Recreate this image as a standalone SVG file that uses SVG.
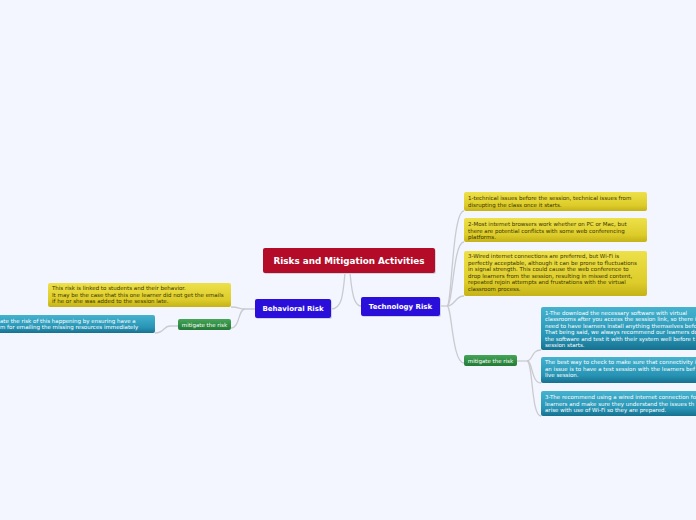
<svg xmlns="http://www.w3.org/2000/svg" width="696" height="520" viewBox="0 0 696 520">
<defs>
<linearGradient id="gy" x1="0" y1="0" x2="0" y2="1"><stop offset="0" stop-color="#ede04a"/><stop offset="0.7" stop-color="#ddcc2a"/><stop offset="1" stop-color="#c4b218"/></linearGradient>
<linearGradient id="gt" x1="0" y1="0" x2="0" y2="1"><stop offset="0" stop-color="#45b2cf"/><stop offset="0.7" stop-color="#2894b5"/><stop offset="1" stop-color="#17708f"/></linearGradient>
<linearGradient id="gg" x1="0" y1="0" x2="0" y2="1"><stop offset="0" stop-color="#45a558"/><stop offset="1" stop-color="#237a36"/></linearGradient>
<style>
.c{fill:none;stroke:#c9cbd0;stroke-width:1.3}
.y{fill:url(#gy)}
.t{fill:url(#gt)}
.g{fill:url(#gg)}
.sh{fill:#cfd3dc}
.tx{font-family:"DejaVu Sans",Verdana,sans-serif;font-size:5.5px;fill:#3a3300}
.tw{font-family:"DejaVu Sans",Verdana,sans-serif;font-size:5.5px;fill:#ffffff}
.b{font-family:"DejaVu Sans",Verdana,sans-serif;font-weight:bold;fill:#ffffff}
</style>
</defs>
<rect width="696" height="520" fill="#f3f6fe"/>
<g id="connectors">
<path class="c" d="M345,273 C343,295 342,309 331,309"/>
<path class="c" d="M350,273 C352,293 354,306 361,306"/>
<path class="c" d="M440,306 L447,306"/>
<path class="c" d="M447,306 C452,306 452,211 464,211"/>
<path class="c" d="M447,306 C453,306 453,242 464,242"/>
<path class="c" d="M447,306 C455,306 455,296 464,296"/>
<path class="c" d="M447,306 C452,306 452,363 464,363"/>
<path class="c" d="M517,361 L527,361"/>
<path class="c" d="M527,361 C533,361 531,350 541,350"/>
<path class="c" d="M527,361 C533,361 531,383 541,383"/>
<path class="c" d="M527,361 C533,361 531,416 541,416"/>
<path class="c" d="M255,309 L245,309 C238,309 240,307 231,307"/>
<path class="c" d="M245,309 C238,309 240,328 231,328"/>
<path class="c" d="M178,326 L170,326 C163,326 165,333 155,333"/>
</g>
<g id="root">
<rect x="264" y="249" width="172" height="25" rx="2" class="sh"/>
<rect x="263" y="248" width="172" height="25" rx="2" fill="#b30b28"/>
<text x="349" y="264" text-anchor="middle" class="b" font-size="8.8">Risks and Mitigation Activities</text>
</g>
<g id="behavioral">
<rect x="256" y="300" width="76" height="19" rx="2" class="sh"/>
<rect x="255" y="299" width="76" height="19" rx="2" fill="#2a0fdb"/>
<text x="293" y="311.3" text-anchor="middle" class="b" font-size="7">Behavioral Risk</text>
</g>
<g id="technology">
<rect x="362" y="298" width="79" height="19" rx="2" class="sh"/>
<rect x="361" y="297" width="79" height="19" rx="2" fill="#2a0fdb"/>
<text x="400.5" y="309.3" text-anchor="middle" class="b" font-size="7">Technology Risk</text>
</g>
<g id="tech1">
<rect x="464" y="192" width="183" height="19" rx="2" class="y"/>
<text class="tx"><tspan x="468" y="200">1-technical issues before the session,  technical issues from</tspan><tspan x="468" y="206.5">disrupting the class once it starts.</tspan></text>
</g>
<g id="tech2">
<rect x="464" y="218" width="183" height="24" rx="2" class="y"/>
<text class="tx"><tspan x="468" y="226">2-Most internet browsers work whether on PC or Mac, but</tspan><tspan x="468" y="232.5">there are potential conflicts with some web conferencing</tspan><tspan x="468" y="239">platforms.</tspan></text>
</g>
<g id="tech3">
<rect x="464" y="251" width="183" height="45" rx="2" class="y"/>
<text class="tx"><tspan x="468" y="258">3-Wired internet connections are preferred, but Wi-Fi is</tspan><tspan x="468" y="264.5">perfectly acceptable, although it can be prone to fluctuations</tspan><tspan x="468" y="271">in signal strength. This could cause the web conference to</tspan><tspan x="468" y="277.5">drop learners from the session, resulting in missed content,</tspan><tspan x="468" y="284">repeated rejoin attempts and frustrations with the virtual</tspan><tspan x="468" y="290.5">classroom process.</tspan></text>
</g>
<g id="tech-mitigate">
<rect x="464" y="355" width="53" height="11" rx="2" class="g"/>
<text x="490.5" y="362.6" text-anchor="middle" class="tw">mitigate the risk</text>
</g>
<g id="tech-m1">
<rect x="541" y="307" width="160" height="43" rx="2" class="t"/>
<text class="tw"><tspan x="545" y="314.5">1-The download the necessary software with virtual</tspan><tspan x="545" y="321">classrooms after you access the session link, so there i</tspan><tspan x="545" y="327.5">need to have learners install anything themselves befo</tspan><tspan x="545" y="334">That being said, we always recommend our learners do</tspan><tspan x="545" y="340.5">the software and test it with their system well before t</tspan><tspan x="545" y="347">session starts.</tspan></text>
</g>
<g id="tech-m2">
<rect x="541" y="357" width="160" height="26" rx="2" class="t"/>
<text class="tw"><tspan x="545" y="364">The best way to check to make sure that connectivity i</tspan><tspan x="545" y="370.5">an issue is to have a test session with the learners bef</tspan><tspan x="545" y="377">live session.</tspan></text>
</g>
<g id="tech-m3">
<rect x="541" y="391" width="160" height="25" rx="2" class="t"/>
<text class="tw"><tspan x="545" y="399">3-The recommend using a wired internet connection fo</tspan><tspan x="545" y="405.5">learners and make sure they understand the issues th</tspan><tspan x="545" y="412">arise with use of Wi-Fi so they are prepared.</tspan></text>
</g>
<g id="beh1">
<rect x="48" y="283" width="183" height="24" rx="2" class="y"/>
<text class="tx"><tspan x="52" y="290">This risk is linked to students and their behavior.</tspan><tspan x="52" y="296.5">It may be the case that this one learner did not get the emails</tspan><tspan x="52" y="303">if he or she was added to the session late.</tspan></text>
</g>
<g id="beh-mitigate">
<rect x="178" y="319" width="53" height="11" rx="2" class="g"/>
<text x="204.5" y="326.6" text-anchor="middle" class="tw">mitigate the risk</text>
</g>
<g id="beh-m1">
<rect x="-10" y="315" width="165" height="18" rx="2" class="t"/>
<text class="tw"><tspan x="0" y="322.5">ate the risk of this happening by ensuring have a</tspan><tspan x="0" y="329">m for emailing the missing resources immediately</tspan></text>
</g>
</svg>
